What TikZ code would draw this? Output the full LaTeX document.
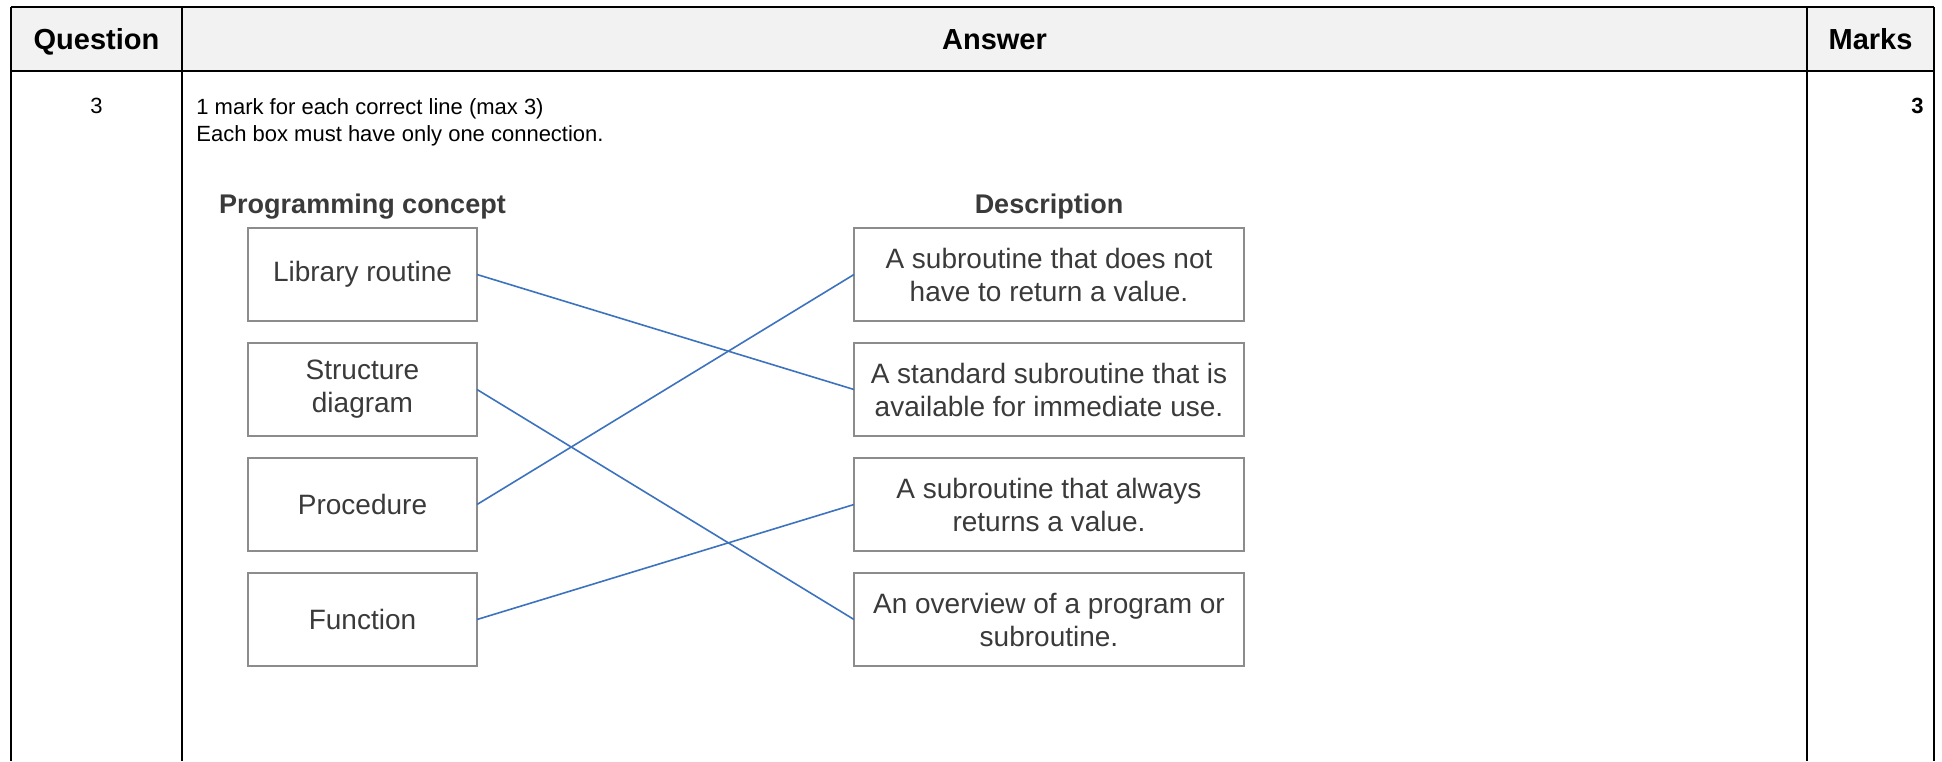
\documentclass[tikz,border=0pt]{standalone}
\usepackage{fontspec}
\setmainfont{Liberation Sans}
\usetikzlibrary{positioning}
\definecolor{hdrgray}{HTML}{F2F2F2}
\definecolor{boxgray}{HTML}{8C8C8C}
\definecolor{txtgray}{HTML}{3A3A3A}
\definecolor{linkblue}{HTML}{3C72BE}
\tikzset{%
	rule/.style     = {line width=1pt, black}, % table lines
	hdr/.style      = {font=\fontsize{14.5}{17}\selectfont\bfseries, anchor=base, inner sep=0pt},
	body/.style     = {font=\fontsize{11}{13.5}\selectfont, anchor=base west, inner sep=0pt},
	colhead/.style  = {font=\fontsize{13.5}{16}\selectfont\bfseries, text=txtgray, anchor=base, inner sep=0pt},
	concept/.style  = {draw=boxgray, line width=1pt, minimum width=114.5pt, minimum height=46.5pt, outer sep=0pt, text=txtgray, font=\fontsize{14}{16.5}\selectfont, align=center},
	descr/.style    = {concept, minimum width=195pt},
	link/.style     = {linkblue, line width=0.8pt},
}

\begin{document}
\begin{tikzpicture}[x=0.5pt, y=-0.5pt, node distance = 11pt]
	\useasboundingbox (0,0) rectangle (1942,761);
	% table frame
	\fill[hdrgray] (11,7) rectangle (1934,71);
	\draw[rule] (11,7) -- (1934,7);
	\draw[rule] (11,71) -- (1934,71);
	\foreach \x in {11,182,1807,1934}
		\draw[rule] (\x,7) -- (\x,761);
	
	\node[hdr] (hq) at (96.5,49.5) {Question};
	\node[hdr] (ha) at (994.5,49.5) {Answer};
	\node[hdr] (hm) at (1870.5,49.5) {Marks};
	
	\node[body, anchor=base] (qnum) at (96.5,113) {3};
	\node[body] (note1) at (196,114) {1 mark for each correct line (max 3)};
	\node[body] (note2) at (196,141) {Each box must have only one connection.};
	\node[body, font=\fontsize{11}{13.5}\selectfont\bfseries, anchor=base east] (mk) at (1924,113) {3};
	
	% matching diagram
	\node[colhead] (hcon) at (362.5,213) {Programming concept};
	\node[colhead] (hdes) at (1049,213) {Description};
	
	\node[concept] (lib) at (362.5,274.5) {Library routine};
	\node[concept,below=of lib] (struct) {Structure\\diagram};
	\node[concept,below=of struct] (proc) {Procedure};
	\node[concept,below=of proc] (func) {Function};
	
	\node[descr] (noret) at (1049,274.5) {A subroutine that does not\\have to return a value.};
	\node[descr,below=of noret] (std) {A standard subroutine that is\\available for immediate use.};
	\node[descr,below=of std] (ret) {A subroutine that always\\returns a value.};
	\node[descr,below=of ret] (over) {An overview of a program or\\subroutine.};
	
	\draw[link] (lib.east) -- (std.west);
	\draw[link] (struct.east) -- (over.west);
	\draw[link] (proc.east) -- (noret.west);
	\draw[link] (func.east) -- (ret.west);
\end{tikzpicture}
\end{document}
